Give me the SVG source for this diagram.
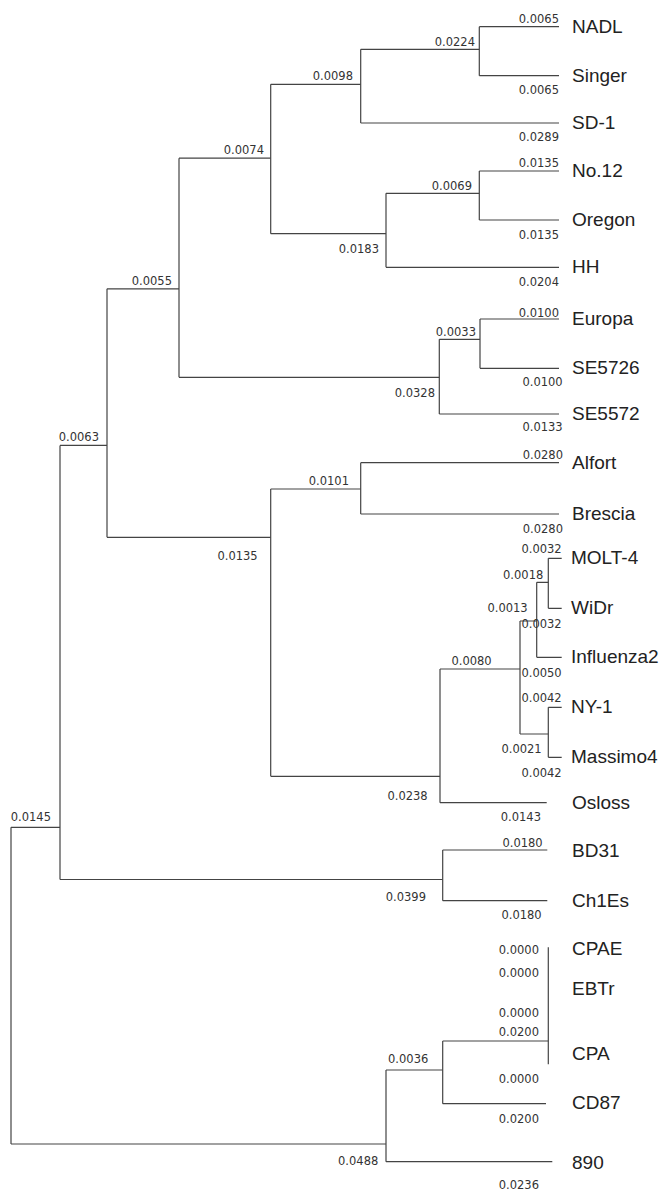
<svg xmlns="http://www.w3.org/2000/svg" width="659" height="1192" viewBox="0 0 659 1192">
<style>
.ln{fill:none;stroke:#444;stroke-width:1.2}
.lf{font-family:"Liberation Sans",Arial,sans-serif;font-size:19px;fill:#222}
.bl{font-family:"DejaVu Sans",sans-serif;font-size:11.5px;fill:#333;text-anchor:end}
</style>
<rect width="659" height="1192" fill="#fff"/>
<g id="connectors" class="ln">
<path d="M11,827.3V1144M11,827.3H60M11,1144H386"/>
<path d="M60,445.4V879.5M60,445.4H107M60,879.5H442.7"/>
<path d="M107,288.8V537.3M107,288.8H179M107,537.3H270.7"/>
<path d="M179,158.2V377.3M179,158.2H270.7M179,377.3H439.3"/>
<path d="M270.7,84.3V233.7M270.7,84.3H360.7M270.7,233.7H386"/>
<path d="M360.7,49.3V123M360.7,49.3H479.3M360.7,123H559"/>
<path d="M479.3,26.7V75.7M479.3,26.7H559M479.3,75.7H559"/>
<path d="M386,193.3V267.3M386,193.3H479.3M386,267.3H559"/>
<path d="M479.3,171V220M479.3,171H559M479.3,220H559"/>
<path d="M439.3,339.3V414M439.3,339.3H480M439.3,414H559"/>
<path d="M480,319V368.3M480,319H559M480,368.3H559"/>
<path d="M270.7,489V776.3M270.7,489H360.7M270.7,776.3H440"/>
<path d="M360.7,462.7V514M360.7,462.7H559M360.7,514H559"/>
<path d="M440,669V802.7M440,669H520M440,802.7H546.7"/>
<path d="M520,621V734M520,621H536.7M520,734H548.3"/>
<path d="M536.7,582.3V657.3M536.7,582.3H548.3M536.7,657.3H561.7"/>
<path d="M548.3,558.3V608.3M548.3,558.3H561.7M548.3,608.3H561.7"/>
<path d="M548.3,707.3V757.3M548.3,707.3H561.7M548.3,757.3H561.7"/>
<path d="M442.7,850V900.7M442.7,850H547.3M442.7,900.7H547.3"/>
<path d="M386,1070V1161.7M386,1070H442.7M386,1161.7H552.3"/>
<path d="M442.7,1041V1103.7M442.7,1041H548.3M442.7,1103.7H546"/>
<path d="M548.3,947.3V1064.3"/>
</g>
<g id="branch-labels" class="bl">
<text x="559" y="22.7">0.0065</text>
<text x="475" y="45.7">0.0224</text>
<text x="559" y="94">0.0065</text>
<text x="353" y="79.5">0.0098</text>
<text x="559" y="141">0.0289</text>
<text x="264" y="154">0.0074</text>
<text x="559" y="166.5">0.0135</text>
<text x="472" y="189.5">0.0069</text>
<text x="559" y="239.3">0.0135</text>
<text x="379" y="253.3">0.0183</text>
<text x="559" y="286">0.0204</text>
<text x="172" y="284.7">0.0055</text>
<text x="559" y="316.7">0.0100</text>
<text x="476" y="336">0.0033</text>
<text x="562.7" y="386">0.0100</text>
<text x="435" y="397.3">0.0328</text>
<text x="562.7" y="431">0.0133</text>
<text x="99" y="441.4">0.0063</text>
<text x="563" y="459">0.0280</text>
<text x="349" y="484.5">0.0101</text>
<text x="563" y="532.7">0.0280</text>
<text x="257.7" y="559.5">0.0135</text>
<text x="561.7" y="552.7">0.0032</text>
<text x="543.3" y="579.3">0.0018</text>
<text x="527.7" y="611.7">0.0013</text>
<text x="561.7" y="628.3">0.0032</text>
<text x="491.7" y="665">0.0080</text>
<text x="561.7" y="676.7">0.0050</text>
<text x="561.7" y="702.3">0.0042</text>
<text x="541.7" y="753.3">0.0021</text>
<text x="561.7" y="777.3">0.0042</text>
<text x="427.7" y="800">0.0238</text>
<text x="541" y="821">0.0143</text>
<text x="51" y="820.7">0.0145</text>
<text x="542.7" y="846.7">0.0180</text>
<text x="426" y="900.5">0.0399</text>
<text x="541.7" y="919.3">0.0180</text>
<text x="539" y="954">0.0000</text>
<text x="539" y="976.7">0.0000</text>
<text x="539" y="1017.3">0.0000</text>
<text x="539" y="1035.7">0.0200</text>
<text x="428.3" y="1063.3">0.0036</text>
<text x="539" y="1083.3">0.0000</text>
<text x="539" y="1123.3">0.0200</text>
<text x="378.3" y="1165">0.0488</text>
<text x="539" y="1189.3">0.0236</text>
</g>
<g class="lf">
<g id="NADL"><text x="572" y="33">NADL</text></g>
<g id="Singer"><text x="572" y="82">Singer</text></g>
<g id="SD-1"><text x="572" y="129">SD-1</text></g>
<g id="No12"><text x="572" y="177">No.12</text></g>
<g id="Oregon"><text x="572" y="226">Oregon</text></g>
<g id="HH"><text x="572" y="273">HH</text></g>
<g id="Europa"><text x="572" y="325">Europa</text></g>
<g id="SE5726"><text x="572" y="374">SE5726</text></g>
<g id="SE5572"><text x="572" y="420">SE5572</text></g>
<g id="Alfort"><text x="572" y="469">Alfort</text></g>
<g id="Brescia"><text x="572" y="520">Brescia</text></g>
<g id="MOLT-4"><text x="571" y="564">MOLT-4</text></g>
<g id="WiDr"><text x="571" y="614">WiDr</text></g>
<g id="Influenza2"><text x="571" y="663">Influenza2</text></g>
<g id="NY-1"><text x="571" y="713">NY-1</text></g>
<g id="Massimo4"><text x="571" y="763">Massimo4</text></g>
<g id="Osloss"><text x="572" y="809">Osloss</text></g>
<g id="BD31"><text x="572" y="857">BD31</text></g>
<g id="Ch1Es"><text x="572" y="907">Ch1Es</text></g>
<g id="CPAE"><text x="572" y="955">CPAE</text></g>
<g id="EBTr"><text x="572" y="995">EBTr</text></g>
<g id="CPA"><text x="572" y="1060">CPA</text></g>
<g id="CD87"><text x="572" y="1109">CD87</text></g>
<g id="n890"><text x="572" y="1169">890</text></g>
</g>
</svg>
